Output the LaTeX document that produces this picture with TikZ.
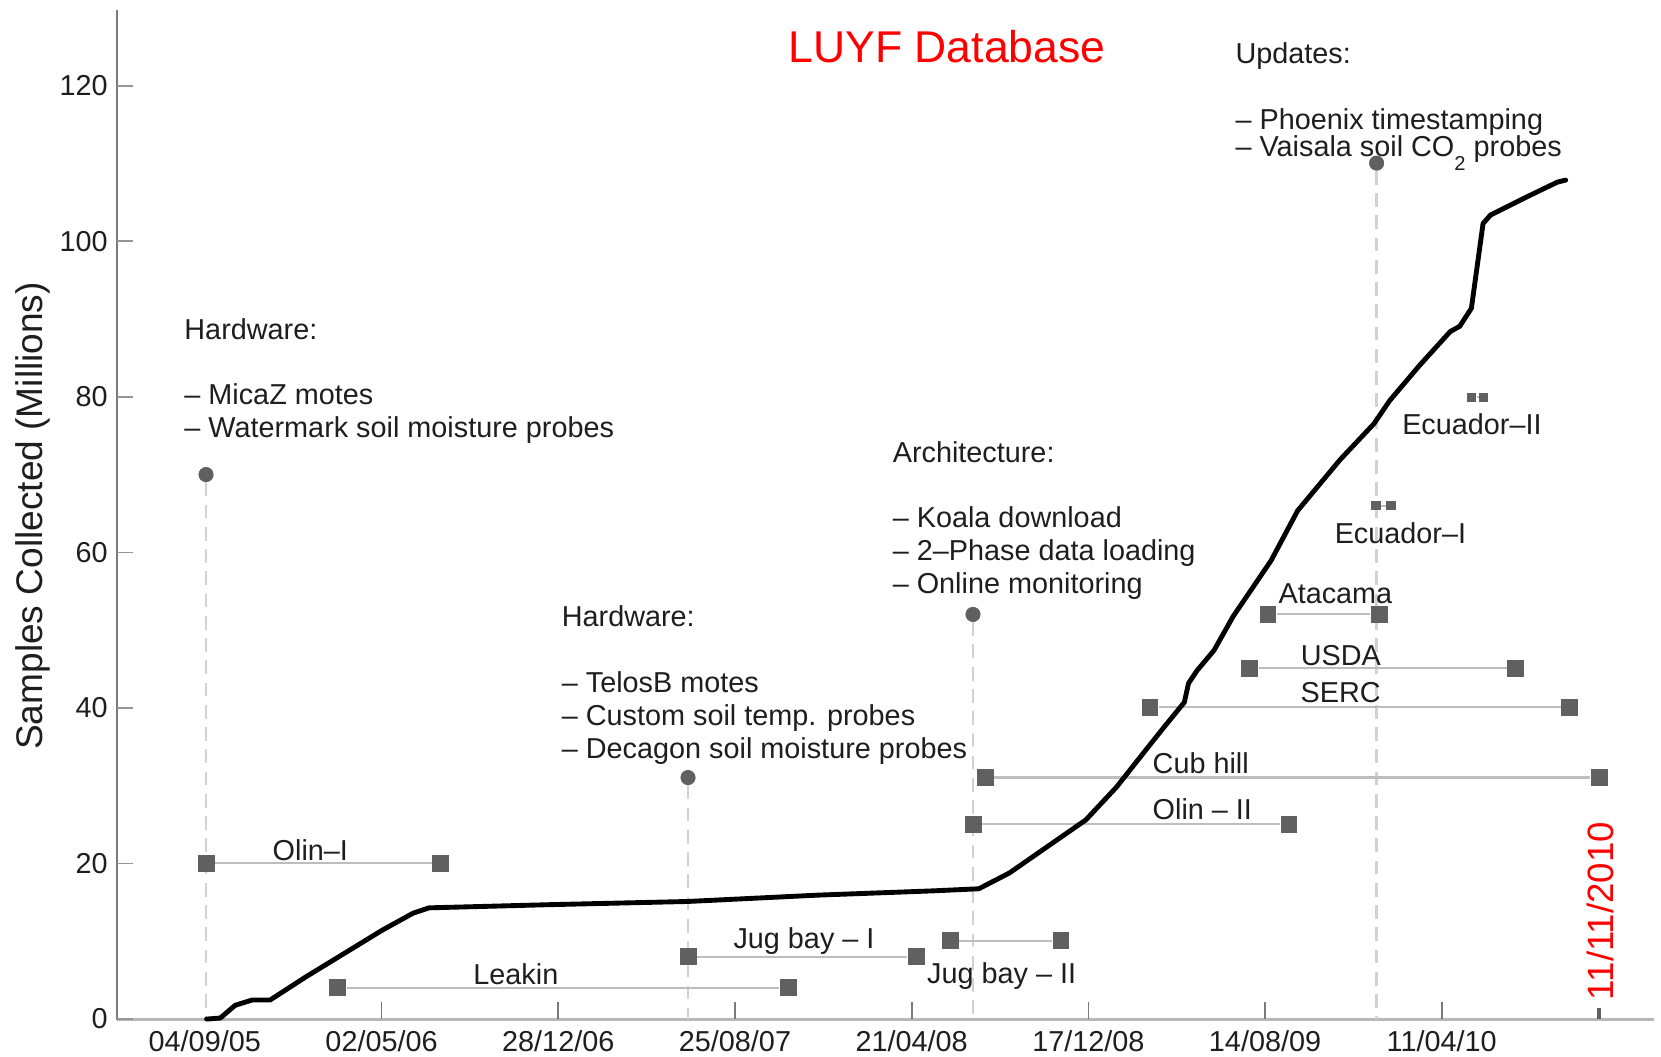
\documentclass[tikz,border=0pt]{standalone}
\usepackage{fontspec}
\setmainfont{Liberation Sans}
\definecolor{markgray}{HTML}{606060}
\definecolor{spangray}{HTML}{BDBDBD}
\definecolor{guidegray}{HTML}{D2D2D2}
\definecolor{axisgray}{HTML}{7A7A7A}
\definecolor{xaxisgray}{HTML}{B8B8B8}
\definecolor{inkgray}{HTML}{1E1E1E}
\begin{document}
\begin{tikzpicture}[x=0.5pt,y=-0.5pt,
  txt/.style={font=\fontsize{13.6}{16}\selectfont, inner sep=0pt, text=inkgray},
  sq/.style={rectangle, fill=markgray, minimum size=8pt, inner sep=0pt},
  sqs/.style={rectangle, fill=markgray, minimum size=4.4pt, inner sep=0pt},
  evt/.style={circle, fill=markgray, minimum size=7pt, inner sep=0pt},
  span/.style={draw=spangray, line width=1pt},
  guide/.style={draw=guidegray, line width=1.1pt, dash pattern=on 6.5pt off 4pt},
  ytk/.style={draw=axisgray!80, line width=0.8pt},
  xtk/.style={draw=axisgray, line width=0.8pt},
  ]
\useasboundingbox (0,0) rectangle (1568,997);

% ---- axes ----
\draw[draw=axisgray, line width=0.8pt] (110.5,9) -- (110.5,962.5);
\draw[draw=xaxisgray, line width=1.5pt] (110.5,962.3) -- (1561,962.3);

% y ticks and labels
\foreach \v in {0,20,...,120} {
  \draw[ytk] (110.5,{962-7.342*\v}) -- (125.5,{962-7.342*\v});
  \node[txt, anchor=east] (yl\v) at (102,{962-7.342*\v}) {\v};
}
\node[txt, font=\fontsize{17.5}{20}\selectfont, rotate=90] (ylab) at (31,487) {Samples Collected (Millions)};

% x ticks and labels
\foreach \x in {360.2,527,693.8,860.6,1027.4,1194.2,1361} {
  \draw[xtk] (\x,962) -- (\x,946);
}
\node[txt, anchor=base] (xl1) at (193.3,992.8) {04/09/05};
\node[txt, anchor=base] (xl2) at (360.2,992.8) {02/05/06};
\node[txt, anchor=base] (xl3) at (527,992.8) {28/12/06};
\node[txt, anchor=base] (xl4) at (693.8,992.8) {25/08/07};
\node[txt, anchor=base] (xl5) at (860.6,992.8) {21/04/08};
\node[txt, anchor=base] (xl6) at (1027.4,992.8) {17/12/08};
\node[txt, anchor=base] (xl7) at (1194.2,992.8) {14/08/09};
\node[txt, anchor=base] (xl8) at (1361,992.8) {11/04/10};

% current date marker
\draw[draw=markgray, line width=1.6pt] (1509.5,962) -- (1509.5,951.5);
\node[txt, text=red, font=\fontsize{17.3}{20}\selectfont, rotate=90] (today) at (1510.5,860) {11/11/2010};

% title
\node[txt, text=red, font=\fontsize{21}{24}\selectfont, anchor=base west] (title) at (744.2,59.2) {LUYF Database};

% ---- event guide lines ----
\node[evt] (e1) at (194.5,448) {};
\node[evt] (e2) at (649.5,734) {};
\node[evt] (e3) at (918.5,580) {};
\node[evt] (e4) at (1299.5,154) {};
\coordinate (e1b) at (194.5,962);
\coordinate (e2b) at (649.5,962);
\coordinate (e3b) at (918.5,962);
\coordinate (e4b) at (1299.5,962);
\draw[guide] (e1) -- (e1b);
\draw[guide] (e2) -- (e2b);
\draw[guide] (e3) -- (e3b);
\draw[guide] (e4) -- (e4b);

% ---- deployment spans ----
\node[sq] (olin1a) at (195,815) {};
\node[sq] (olin1b) at (416.2,815) {};
\draw[span] (olin1a) -- (olin1b);
\node[txt, anchor=base] (olin1l) at (293,812) {Olin–I};

\node[sq] (leakina) at (319,932.5) {};
\node[sq] (leakinb) at (744,932.5) {};
\draw[span] (leakina) -- (leakinb);
\node[txt, anchor=base] (leakinl) at (487,929) {Leakin};

\node[sq] (jug1a) at (650,903) {};
\node[sq] (jug1b) at (864.8,903) {};
\draw[span] (jug1a) -- (jug1b);
\node[txt, anchor=base] (jug1l) at (759,895) {Jug bay – I};

\node[sq] (jug2a) at (897,888) {};
\node[sq] (jug2b) at (1001.6,888) {};
\draw[span] (jug2a) -- (jug2b);
\node[txt, anchor=base] (jug2l) at (945.6,928) {Jug bay – II};

\node[sq] (olin2a) at (918.6,778) {};
\node[sq] (olin2b) at (1216.8,778) {};
\draw[span] (olin2a) -- (olin2b);
\node[txt, anchor=base] (olin2l) at (1135,774) {Olin – II};

\node[sq] (cuba) at (930,734) {};
\node[sq] (cubb) at (1509.5,734) {};
\draw[span] (cuba) -- (cubb);
\node[txt, anchor=base] (cubl) at (1133.5,730) {Cub hill};

\node[sq] (serca) at (1085.6,667.5) {};
\node[sq] (sercb) at (1482,667.5) {};
\draw[span] (serca) -- (sercb);
\node[txt, anchor=base] (sercl) at (1265.6,663) {SERC};

\node[sq] (usdaa) at (1179.7,631) {};
\node[sq] (usdab) at (1431,631) {};
\draw[span] (usdaa) -- (usdab);
\node[txt, anchor=base] (usdal) at (1265.7,628) {USDA};

\node[sq] (ataca) at (1197,580) {};
\node[sq] (atacb) at (1302,580) {};
\draw[span] (ataca) -- (atacb);
\node[txt, anchor=base] (atacl) at (1260.6,569.5) {Atacama};

\node[sqs] (ecu1a) at (1299,477.5) {};
\node[sqs] (ecu1b) at (1313,477.5) {};
\draw[span] (ecu1a) -- (ecu1b);
\node[txt, anchor=base] (ecu1l) at (1322,513) {Ecuador–I};

\node[sqs] (ecu2a) at (1389.3,375) {};
\node[sqs] (ecu2b) at (1400.5,375) {};
\draw[span] (ecu2a) -- (ecu2b);
\node[txt, anchor=base] (ecu2l) at (1389.5,410.6) {Ecuador–II};

% ---- annotation blocks ----
\node[txt, anchor=base west] (hw1h) at (173.7,320.3) {Hardware:};
\node[txt, anchor=base west] (hw1a) at (173.7,381.6) {– MicaZ motes};
\node[txt, anchor=base west] (hw1b) at (173.7,413) {– Watermark soil moisture probes};

\node[txt, anchor=base west] (hw2h) at (530,591.5) {Hardware:};
\node[txt, anchor=base west] (hw2a) at (530,653.3) {– TelosB motes};
\node[txt, anchor=base west] (hw2b) at (530,684.6) {– Custom soil temp. probes};
\node[txt, anchor=base west] (hw2c) at (530,715.9) {– Decagon soil moisture probes};

\node[txt, anchor=base west] (arh) at (842.4,436.5) {Architecture:};
\node[txt, anchor=base west] (ar1) at (842.4,498.1) {– Koala download};
\node[txt, anchor=base west] (ar2) at (842.4,529.4) {– 2–Phase data loading};
\node[txt, anchor=base west] (ar3) at (842.4,560.4) {– Online monitoring};

\node[txt, anchor=base west] (uph) at (1166,60.4) {Updates:};
\node[txt, anchor=base west] (up1) at (1166,122.7) {– Phoenix timestamping};
\node[txt, anchor=base west] (up2) at (1166,147.9) {– Vaisala soil CO\raisebox{-6.5pt}{\fontsize{9.5}{10}\selectfont 2} probes};

% event dots on top of text
\node[evt] at (e4) {};
\node[evt] at (e3) {};
\node[evt] at (e2) {};
\node[evt] at (e1) {};

% ---- cumulative samples ----
\draw[line width=2.3pt, line join=round, line cap=round] plot coordinates {
 (195,962) (208,961) (222,949) (238,944) (255,944) (289,922) (361,878)
 (390,862) (405,857) (519,854) (649,851) (772,845) (880,841) (924,839)
 (953,824) (989,799) (1025,774) (1054,743) (1084,705) (1100,685)
 (1118,663) (1122,645) (1130,633) (1146,614) (1164,582) (1200,529)
 (1225,482) (1265,434) (1297,400) (1312,378) (1340,345) (1369,313)
 (1378,308) (1389,291) (1400,211) (1407,203) (1441,186) (1470,172) (1478,170)
};
\end{tikzpicture}
\end{document}
